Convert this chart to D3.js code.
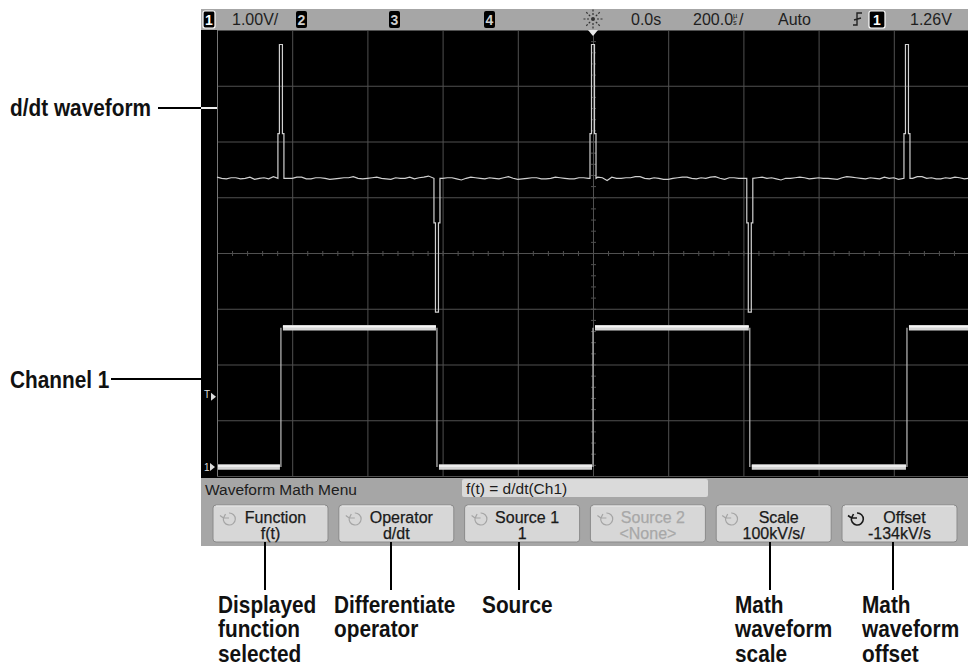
<!DOCTYPE html>
<html>
<head>
<meta charset="utf-8">
<script src="https://cdn.jsdelivr.net/npm/d3@7"></script>
<style>
  body { margin: 0; background: #fff; }
  svg { display: block; }
</style>
</head>
<body>
<svg id="chart" width="968" height="667"></svg>
<script>
// Scope settings
const timePerDiv = 200;        // µs/div
const ch1VoltsPerDiv = 1.0;
const ch1GroundDiv = -3.84;    // ground marker, divisions from centre
const mathScale = 100;         // kV/s per div
const mathOffset = -134;       // kV/s at centre

// Channel 1 square wave (µs, V)
const ch1Edges = [-830, -415, 0, 417, 835];
const ch1Levels = [0, 2.5, 0, 2.5, 0, 2.5];
const triggerLevel = 1.26;

// d/dt spikes (kV/s)
const spikePeak = 240;
const spikeShoulder = 80;
// baseline noise on the math trace, one sample every 12.5 µs from -1000 µs
const dtNoise = [2, 0, -1, 1, 1, -1, 0, 2, -2, 0, 1, -1, 3, 1, -1, 0, 0, 2, 2, -1,
  -1, 1, 1, 0, -2, -1, 0, 1, 1, 3, 0, -1, 0, 1, 2, 0, -1, -2, 1, 0,
  0, 2, -1, 1, 2, 4, -1, 0, 0, 1, 1, -1, -3, 0, 2, 1, 0, -1, 1, 0,
  -1, 1, 3, 0, -2, -1, 0, 1, 1, -1, -1, 0, 2, 1, 0, -1, -1, 1, 1, 0,
  -1, 2, 1, -4, 2, 0, 0, 1, 1, 3, 3, 0, -1, 1, 0, -2, -2, 0, 1, 2,
  2, 0, -1, 1, 0, 2, 3, 0, -2, 1, 1, 0, 0, -1, -1, 1, 2, 0, 1, -1,
  -3, 0, 0, 1, 2, 1, -1, 0, 1, 0, 0, -1, -2, 1, 3, 2, 1, 0, -1, 1,
  0, -1, 2, 0, 1, -2, -2, 1, 0, 3, 3, 0, 1, -1, -1, 1, 0, 2, 1, -1, 0];

// Status line texts
const topLabels = ["1.00V/", "0.0s", "Auto", "1.26V"];
const timebaseLabel = ["200.0", "µ", "s", "/"];
const channelBadges = ["1", "2", "3", "4"];

// Softkey menu
const menuTitle = "Waveform Math Menu";
const menuFormula = "f(t) = d/dt(Ch1)";
const menuKeys = ["Function", "Operator", "Source 1", "Source 2", "Scale", "Offset"];
const menuValues = ["f(t)", "d/dt", "1", "<None>", "100kV/s/", "-134kV/s"];
const menuEnabled = [true, true, true, false, true, true];

// Callouts
const sideCallouts = ["d/dt waveform", "Channel 1"];
const keyCallouts = [["Displayed", "function", "selected"], ["Differentiate", "operator"], ["Source"], [],
  ["Math", "waveform", "scale"], ["Math", "waveform", "offset"]];

const svg = d3.select("#chart");
const scopeFont = "'Liberation Sans', Arial, sans-serif";

const gridLeft = 217, gridRight = 969, gridTop = 30, gridBottom = 476;

const x = d3.scaleLinear()
    .domain([-5 * timePerDiv, 5 * timePerDiv])
    .range([gridLeft, gridRight]);
const yDiv = d3.scaleLinear().domain([-4, 4]).range([gridBottom, gridTop]);
const yCh1 = d3.scaleLinear()
    .domain([(-4 - ch1GroundDiv) * ch1VoltsPerDiv, (4 - ch1GroundDiv) * ch1VoltsPerDiv])
    .range([gridBottom, gridTop]);
const yMath = d3.scaleLinear()
    .domain([mathOffset - 4 * mathScale, mathOffset + 4 * mathScale])
    .range([gridBottom, gridTop]);

// Instrument frame
svg.append("rect").attr("x", 201).attr("y", 9).attr("width", 767).attr("height", 537).attr("fill", "#a6a6a6");
svg.append("rect").attr("x", 201).attr("y", 30).attr("width", 767).attr("height", 448).attr("fill", "#000");

// Graticule
const grid = svg.append("g").attr("stroke", "#505050").attr("stroke-width", 1);
grid.selectAll(".vline")
    .data(d3.range(-5, 6))
    .enter().append("line")
    .attr("x1", d => x(d * timePerDiv) + 0.5).attr("x2", d => x(d * timePerDiv) + 0.5)
    .attr("y1", gridTop).attr("y2", gridBottom);
grid.selectAll(".hline")
    .data(d3.range(-4, 5))
    .enter().append("line")
    .attr("x1", gridLeft).attr("x2", gridRight)
    .attr("y1", d => yDiv(d) + 0.5).attr("y2", d => yDiv(d) + 0.5);
grid.selectAll(".htick")
    .data(d3.range(-5, 5.01, 0.2))
    .enter().append("line")
    .attr("x1", d => x(d * timePerDiv) + 0.5).attr("x2", d => x(d * timePerDiv) + 0.5)
    .attr("y1", yDiv(0) - 2).attr("y2", yDiv(0) + 3);
grid.selectAll(".vtick")
    .data(d3.range(-4, 4.01, 0.2))
    .enter().append("line")
    .attr("x1", x(0) - 2).attr("x2", x(0) + 3)
    .attr("y1", d => yDiv(d) + 0.5).attr("y2", d => yDiv(d) + 0.5);
svg.append("line")
    .attr("x1", gridLeft + 0.5).attr("x2", gridLeft + 0.5)
    .attr("y1", gridTop).attr("y2", gridBottom)
    .attr("stroke", "#777");

// Channel 1 trace
const ch1Bounds = [x.domain()[0], ...ch1Edges, x.domain()[1]];
svg.append("g").selectAll("line")
    .data(ch1Edges)
    .enter().append("line")
    .attr("x1", d => x(d)).attr("x2", d => x(d))
    .attr("y1", yCh1(ch1Levels[1])).attr("y2", yCh1(ch1Levels[0]))
    .attr("stroke", "#bdbdbd").attr("stroke-width", 1.2);
const barStart = (d, i) => x(ch1Bounds[i]) + (i ? 2 : 1);
const barEnd = (d, i) => x(ch1Bounds[i + 1]) - (i < ch1Levels.length - 1 ? 1 : 0);
svg.append("g").selectAll("line")
    .data(ch1Levels)
    .enter().append("line")
    .attr("x1", barStart).attr("x2", barEnd)
    .attr("y1", d => yCh1(d)).attr("y2", d => yCh1(d))
    .attr("stroke", "#d6d6d6").attr("stroke-width", 5.5);
svg.append("g").selectAll("line")
    .data(ch1Levels)
    .enter().append("line")
    .attr("x1", barStart).attr("x2", barEnd)
    .attr("y1", d => yCh1(d) - 1).attr("y2", d => yCh1(d) - 1)
    .attr("stroke", "#f5f5f5").attr("stroke-width", 1.5);

// d/dt trace: noisy baseline with a spike at every edge
const spikes = ch1Edges.map((t, i) => ({t: t, sign: ch1Levels[i + 1] > ch1Levels[i] ? 1 : -1}));
const dtPoints = dtNoise
    .map((v, i) => [x.domain()[0] + i * 12.5, v])
    .filter(p => spikes.every(s => Math.abs(p[0] - s.t) > 10));
spikes.forEach(s => {
    const a = s.sign * spikeShoulder, b = s.sign * spikePeak;
    dtPoints.push([s.t - 8, 0], [s.t - 8, a], [s.t - 4, a], [s.t - 4, b],
        [s.t + 4, b], [s.t + 4, a], [s.t + 8, a], [s.t + 8, 0]);
});
dtPoints.sort((a, b) => a[0] - b[0]);
svg.append("path")
    .datum(dtPoints)
    .attr("d", d3.line().x(d => x(d[0])).y(d => yMath(d[1])))
    .attr("fill", "none")
    .attr("stroke", "#d0d0d0")
    .attr("stroke-width", 1.2);

// Left markers
svg.append("text").attr("x", 204).attr("y", yCh1(triggerLevel) + 1)
    .attr("font-family", scopeFont).attr("font-size", 10).attr("fill", "#ddd").text("T");
svg.append("path").attr("d", `M211,${yCh1(triggerLevel) - 4} l5,4 l-5,4 z`).attr("fill", "#ddd");
svg.append("text").attr("x", 204).attr("y", yCh1(0) + 4)
    .attr("font-family", scopeFont).attr("font-size", 10).attr("fill", "#ddd").text("1");
svg.append("path").attr("d", `M210,${yCh1(0) - 4} l5,4 l-5,4 z`).attr("fill", "#ddd");

// Status line
const badge = (bx, label, outlined, w) => {
    svg.append("rect").attr("x", bx).attr("y", 11).attr("width", w).attr("height", 17).attr("rx", 2)
        .attr("fill", "#000").attr("stroke", outlined ? "#fff" : "none").attr("stroke-width", 1.2);
    svg.append("text").attr("x", bx + w / 2).attr("y", 25).attr("text-anchor", "middle")
        .attr("font-family", scopeFont).attr("font-size", 14).attr("font-weight", "bold")
        .attr("fill", outlined ? "#fff" : "#cfcfcf").text(label);
};
badge(203, channelBadges[0], true, 12);
badge(296, channelBadges[1], false, 11);
badge(389, channelBadges[2], false, 11);
badge(484, channelBadges[3], false, 11);
badge(869, channelBadges[0], true, 16);

const status = svg.append("g").attr("font-family", scopeFont).attr("font-size", 16).attr("fill", "#1e1e1e");
status.append("text").attr("x", 232).attr("y", 25).text(topLabels[0]);
status.append("text").attr("x", 631).attr("y", 25).text(topLabels[1]);
status.append("text").attr("x", 778).attr("y", 25).text(topLabels[2]);
status.append("text").attr("x", 910).attr("y", 25).text(topLabels[3]);
const tb = status.append("text").attr("x", 693).attr("y", 25);
tb.append("tspan").text(timebaseLabel[0]);
tb.append("tspan").attr("x", 733).attr("y", 18).attr("font-size", 7.5).text(timebaseLabel[1]);
tb.append("tspan").attr("x", 733).attr("y", 25).attr("font-size", 7.5).text(timebaseLabel[2]);
tb.append("tspan").attr("x", 739).attr("y", 25).text(timebaseLabel[3]);

// run indicator and trigger position
const sun = svg.append("g").attr("transform", `translate(${x(0)},19)`)
    .attr("stroke", "#333").attr("stroke-width", 1.2);
sun.selectAll("line")
    .data(d3.range(8))
    .enter().append("line")
    .attr("x1", d => 4 * Math.cos(d * Math.PI / 4)).attr("y1", d => 4 * Math.sin(d * Math.PI / 4))
    .attr("x2", d => 10 * Math.cos(d * Math.PI / 4)).attr("y2", d => 10 * Math.sin(d * Math.PI / 4))
    .attr("stroke-dasharray", "2,1.5");
sun.append("circle").attr("r", 2).attr("fill", "#333").attr("stroke", "none");
svg.append("path").attr("d", `M${x(0) - 5},30 h10 l-5,6 z`).attr("fill", "#e8e8e8");

// trigger slope
svg.append("path").attr("d", "M853,25 h4 v-12 h5 M854,20 l7,-2")
    .attr("fill", "none").attr("stroke", "#222").attr("stroke-width", 1.4);

// Softkey menu
const menu = svg.append("g").attr("font-family", scopeFont).attr("font-size", 15.5);
menu.append("text").attr("x", 205).attr("y", 495).attr("fill", "#1c1c1c").text(menuTitle);
menu.append("rect").attr("x", 462).attr("y", 479).attr("width", 246).attr("height", 18).attr("rx", 2)
    .attr("fill", "#dadada");
menu.append("text").attr("x", 466).attr("y", 494).attr("fill", "#1c1c1c").text(menuFormula);

const keyX = i => 213 + i * 125.8;
const keyW = 115;
const keys = menu.selectAll(".key")
    .data(menuKeys)
    .enter().append("g")
    .attr("transform", (d, i) => `translate(${keyX(i)},505)`);
keys.append("rect").attr("width", keyW).attr("height", 37).attr("rx", 3)
    .attr("fill", "#d7d7d7").attr("stroke", "#8a8a8a").attr("stroke-width", 1);
keys.append("line").attr("x1", 3).attr("x2", keyW - 3).attr("y1", 1).attr("y2", 1)
    .attr("stroke", "#ececec");
const keyText = keys.append("text")
    .attr("text-anchor", "middle")
    .attr("font-size", 16)
    .attr("fill", (d, i) => menuEnabled[i] ? "#1a1a1a" : "#a8a8a8")
    .attr("stroke", (d, i) => menuEnabled[i] ? "#1a1a1a" : "#a8a8a8")
    .attr("stroke-width", 0.25);
keyText.append("tspan").attr("x", keyW / 2 + 5).attr("y", 17.5).text(d => d);
keyText.append("tspan").attr("x", keyW / 2).attr("y", 33.5).text((d, i) => menuValues[i]);
// entry knob icons
keys.append("path")
    .attr("d", "M16,8 A6,6 0 1 1 10.5,12.5 M7,10.5 l3.5,2.5 l2,-4 M10,13 h6")
    .attr("fill", "none")
    .attr("stroke", (d, i) => i === 5 ? "#1a1a1a" : "#a5a5a5")
    .attr("stroke-width", (d, i) => i === 5 ? 1.6 : 1.2)
    .attr("transform", (d, i) => i >= 4 ? "translate(-1,0)" : null);

// Callouts (bold sans squeezed to a narrow face)
const calloutText = (cx, cy, lines) => {
    const t = svg.append("text")
        .attr("transform", `translate(${cx},${cy}) scale(0.85,1)`)
        .attr("font-family", scopeFont).attr("font-weight", "bold")
        .attr("font-size", 24.5).attr("fill", "#111");
    t.selectAll("tspan")
        .data(lines)
        .enter().append("tspan")
        .attr("x", 0)
        .attr("y", (d, j) => j * 24.5)
        .text(d => d);
};
calloutText(10, 116, [sideCallouts[0]]);
calloutText(10, 388, [sideCallouts[1]]);
svg.append("line").attr("x1", 158).attr("x2", 201).attr("y1", 108).attr("y2", 108)
    .attr("stroke", "#000").attr("stroke-width", 2);
svg.append("line").attr("x1", 201).attr("x2", gridLeft).attr("y1", 108).attr("y2", 108)
    .attr("stroke", "#eee").attr("stroke-width", 2);
svg.append("line").attr("x1", 111).attr("x2", 201).attr("y1", 379).attr("y2", 379)
    .attr("stroke", "#000").attr("stroke-width", 2);

const leaderX = [265, 391, 519, null, 770, 893];
const labelX = [218, 334, 482, null, 735, 862];
keyCallouts.forEach((lines, i) => {
    if (!lines.length) return;
    svg.append("line").attr("x1", leaderX[i]).attr("x2", leaderX[i]).attr("y1", 542).attr("y2", 590)
        .attr("stroke", "#000").attr("stroke-width", 2);
    calloutText(labelX[i], 613, lines);
});
</script>
</body>
</html>
